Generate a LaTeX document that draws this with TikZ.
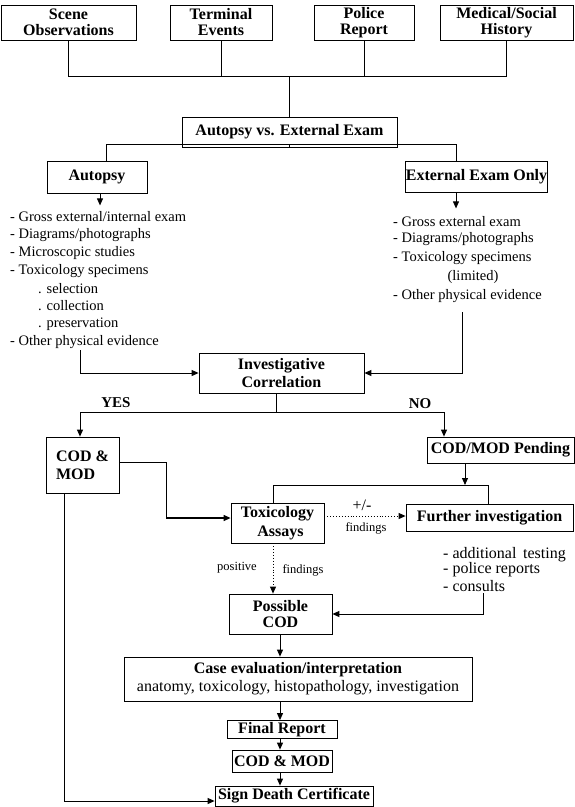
\documentclass[tikz,border=0pt]{standalone}
\usepackage{fontspec}
\setmainfont{Liberation Serif}
\usetikzlibrary{arrows.meta}
\begin{document}
\begin{tikzpicture}[x=1pt,y=-1pt,
  box/.style={draw, line width=0.8pt, inner sep=0pt, align=center, font=\fontsize{16}{16}\selectfont\bfseries},
  ln/.style={line width=0.8pt},
  arr/.style={line width=0.9pt, -{Triangle[length=7pt,width=6pt]}},
  lst/.style={anchor=west, inner sep=0pt, font=\fontsize{14.5}{16}\selectfont},
  lstb/.style={anchor=west, inner sep=0pt, font=\fontsize{16}{16}\selectfont},
  lbl/.style={inner sep=0pt, font=\fontsize{15}{16}\selectfont\bfseries},
  sml/.style={inner sep=0pt, font=\fontsize{12.5}{14}\selectfont},
]
\useasboundingbox (0,0) rectangle (575,807);

% top boxes
\node[box, minimum width=135pt, minimum height=35pt] (scene) at (68.5,22.5) {Scene\\Observations};
\node[box, minimum width=102pt, minimum height=35pt] (term) at (221,22.5) {Terminal\\Events};
\node[box, minimum width=100pt, minimum height=35pt] (police) at (364,22.5) {Police\\Report};
\node[box, minimum width=133pt, minimum height=35pt] (medical) at (506.5,22.5) {Medical/Social\\History};
\node[box, minimum width=215pt, minimum height=30pt] (ave) at (289.5,132) {Autopsy vs. External Exam};

\coordinate (bus) at (289.5,76);
\draw[ln] (scene.south) -- (scene.south |- bus) -- (medical.south |- bus) -- (medical.south);
\draw[ln] (term.south) -- (term.south |- bus);
\draw[ln] (police.south) -- (police.south |- bus);
\draw[ln] (bus) -- (ave.north);

% autopsy / external
\node[box, minimum width=100pt, minimum height=32pt] (autopsy) at (97,177) {Autopsy};
\node[box, minimum width=137pt, minimum height=31pt] (ext) at (476.5,176.5) {External Exam Only};
\coordinate (sp) at (289.5,144);
\coordinate (ja) at (106,144);
\coordinate (je) at (456,144);
\draw[ln] (ave.south) -- (sp);
\draw[ln] (ja |- autopsy.north) -- (ja) -- (je) -- (je |- ext.north);
\draw[arr] ([xshift=3pt]autopsy.south) -- ++(0,12);
\draw[arr] ([xshift=-20.5pt]ext.south) -- ++(0,16);

% autopsy list
\node[lst] (a1) at (10,217) {- Gross external/internal exam};
\node[lst] (a2) at (10,235) {- Diagrams/photographs};
\node[lst] (a3) at (10,253) {- Microscopic studies};
\node[lst] (a4) at (10,271) {- Toxicology specimens};
\node[lst] (a5) at (38,289) {. selection};
\node[lst] (a6) at (38,306) {. collection};
\node[lst] (a7) at (38,324) {. preservation};
\node[lst] (a8) at (10,342) {- Other physical evidence};

% external list
\node[lst] (e1) at (393,222) {- Gross external exam};
\node[lst] (e2) at (393,239) {- Diagrams/photographs};
\node[lst] (e3) at (393,258) {- Toxicology specimens};
\node[lst, anchor=center] (e4) at (473,277) {(limited)};
\node[lst] (e5) at (393,296) {- Other physical evidence};

% investigative correlation
\node[box, minimum width=165pt, minimum height=40pt, font=\fontsize{16}{18}\selectfont\bfseries] (ic) at (281.5,373) {Investigative\\Correlation};
\coordinate (la) at (80,350);
\coordinate (le) at (462,312);
\draw[arr] (la) |- (ic.west);
\draw[arr] (le) |- (ic.east);

% yes / no
\coordinate (icb) at (276,412);
\coordinate (yl) at (80,412);
\coordinate (nr) at (444,412);
\node[box, minimum width=73pt, minimum height=56pt, align=left, font=\fontsize{16}{18}\selectfont\bfseries] (cm1) at (82.5,465) {COD \&\\MOD};
\node[box, minimum width=147pt, minimum height=26pt] (pend) at (500.5,450) {COD/MOD Pending};
\draw[ln] (ic.south -| icb) -- (icb);
\draw[arr] (icb) -- (yl) -- (yl |- cm1.north);
\draw[arr] (icb) -- (nr) -- (nr |- pend.north);
\node[lbl] (yes) at (116,403) {YES};
\node[lbl] (no) at (420,404) {NO};

% toxicology / further
\node[box, minimum width=93pt, minimum height=40pt, font=\fontsize{16}{19}\selectfont\bfseries] (tox) at (277.5,523) {Toxicology\\\hspace*{6pt}Assays};
\node[box, minimum width=167pt, minimum height=27pt] (fi) at (489.5,517.5) {Further investigation};
\coordinate (b2) at (465,485);
\coordinate (b2l) at (273,485);
\coordinate (b2r) at (488,485);
\draw[arr] (b2 |- pend.south) -- (b2);
\draw[ln] (b2l |- tox.north) -- (b2l) -- (b2r) -- (b2r |- fi.north);

\coordinate (c1) at (166,462);
\coordinate (c2) at (166,518);
\draw[ln] (cm1.east |- c1) -- (c1) -- (c2);
\draw[arr, line width=1.2pt] (c2) -- (c2 -| tox.west);

\coordinate (d1) at (0,516);
\draw[arr, dotted] (d1 -| tox.east) -- (d1 -| fi.west);
\node[inner sep=0pt, font=\fontsize{16}{16}\selectfont] (pm) at (362,505) {+/-};
\node[sml] (fnd1) at (366,528) {findings};

% possible COD
\node[box, minimum width=103pt, minimum height=40pt] (pcod) at (280.5,614) {Possible\\COD};
\coordinate (d2) at (273,0);
\draw[arr, dotted] (d2 |- tox.south) -- (d2 |- pcod.north);
\node[sml] (pos) at (237,568) {positive};
\node[sml] (fnd2) at (303,570) {findings};

\node[lstb] (f1) at (443,555) {- additional\, testing};
\node[lstb] (f2) at (443,570) {- police reports};
\node[lstb] (f3) at (443,586) {- consults};
\coordinate (fl) at (483,593);
\draw[arr] (fl) |- (pcod.east);

% bottom chain
\node[box, minimum width=348pt, minimum height=44pt, font=\fontsize{16}{18}\selectfont\bfseries] (case) at (298,679) {Case evaluation/interpretation\\{\mdseries anatomy, toxicology, histopathology, investigation}};
\node[box, minimum width=110pt, minimum height=18pt] (final) at (282,729.5) {Final Report};
\node[box, minimum width=100pt, minimum height=22pt] (cm2) at (282,761) {COD \& MOD};
\node[box, minimum width=158pt, minimum height=20pt] (sign) at (294,796) {Sign Death Certificate};
\coordinate (m) at (280,0);
\draw[arr] (m |- pcod.south) -- (m |- case.north);
\draw[arr] (m |- case.south) -- (m |- final.north);
\draw[arr] (m |- final.south) -- (m |- cm2.north);
\draw[arr] (m |- cm2.south) -- (m |- sign.north);

\coordinate (l1) at (64,0);
\coordinate (l2) at (64,801);
\draw[arr] (l1 |- cm1.south) -- (l2) -- (l2 -| sign.west);
\end{tikzpicture}
\end{document}
